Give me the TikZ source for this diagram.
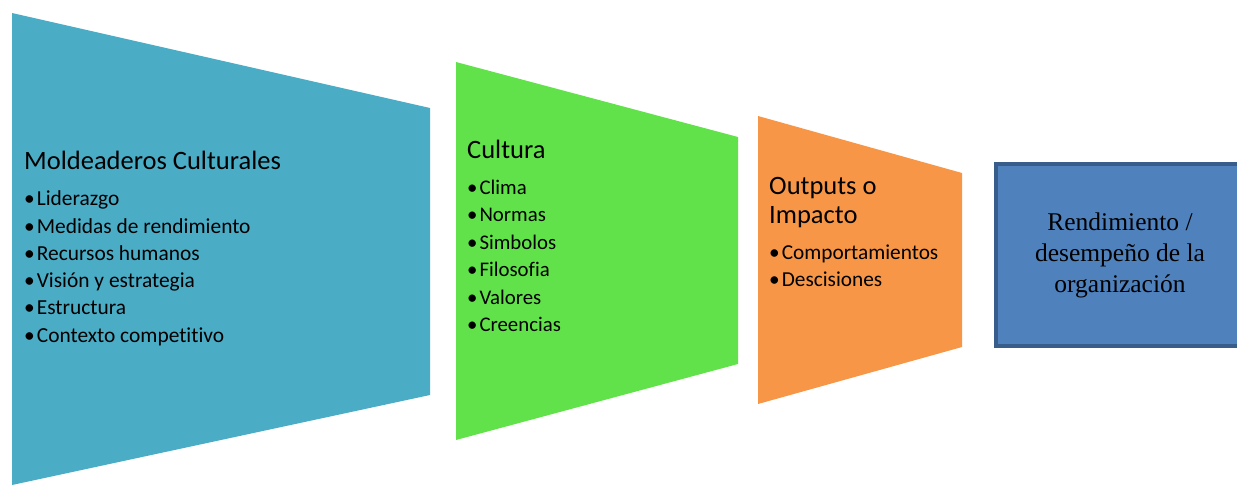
\documentclass[tikz,border=0pt]{standalone}
\usepackage{fontspec}
\setmainfont[Ligatures=NoCommon]{Carlito}
\newfontfamily\timesfont{Liberation Serif}
\usetikzlibrary{positioning}
\definecolor{c1}{HTML}{4BACC6}
\definecolor{c2}{HTML}{62E24A}
\definecolor{c3}{HTML}{F79646}
\definecolor{c4}{HTML}{4F81BD}
\definecolor{c4d}{HTML}{385D8A}
\newcommand\bul{\textbullet\hspace{2pt}}
\tikzset{
  head/.style={anchor=base west,inner sep=0pt,font=\fontsize{26.5}{26.5}\selectfont},
  item/.style={anchor=base west,inner sep=0pt,font=\fontsize{#1}{#1}\selectfont},
  result/.style={draw=c4d,line width=4pt,fill=c4,align=center,
    font=\timesfont\fontsize{25.5}{31}\selectfont}
}

\begin{document}
\begin{tikzpicture}[x=1pt,y=-1pt]
  \useasboundingbox (0,0) rectangle (1237,485);
  % the three funnel pieces
  \fill[c1] (12,13) -- (430,108) -- (430,395) -- (12,485) -- cycle;
  \fill[c2] (456,62) -- (738,137) -- (738,364) -- (456,440) -- cycle;
  \fill[c3] (758,116) -- (962,173) -- (962,347) -- (758,404) -- cycle;

  % Moldeaderos
  \node[head] (mold) at (24,169) {Moldeaderos Culturales};
  \foreach \t [count=\i from 0] in {Liderazgo,Medidas de rendimiento,
      Recursos humanos,Visión y estrategia,Estructura,Contexto competitivo}
    \node[item=21.4] (mold\i) at (24,{205.7+27.3*\i}) {\bul\t};

  % Cultura
  \node[head] (cult) at (467,158) {Cultura};
  \foreach \t [count=\i from 0] in {Clima,Normas,Simbolos,Filosofia,Valores,Creencias}
    \node[item=20.8] (cult\i) at (467,{194+27.5*\i}) {\bul\t};

  % Outputs
  \node[head] (out) at (769,194) {Outputs o};
  \node[head] (imp) at (769,223) {Impacto};
  \foreach \t [count=\i from 0] in {Comportamientos,Descisiones}
    \node[item=21.3] (out\i) at (769,{259+27*\i}) {\bul\t};

  % result box
  \node[result,minimum width=248pt,minimum height=182pt] (rend) at (1120,255)
    {Rendimiento /\\desempeño de la\\organización};
\end{tikzpicture}
\end{document}
